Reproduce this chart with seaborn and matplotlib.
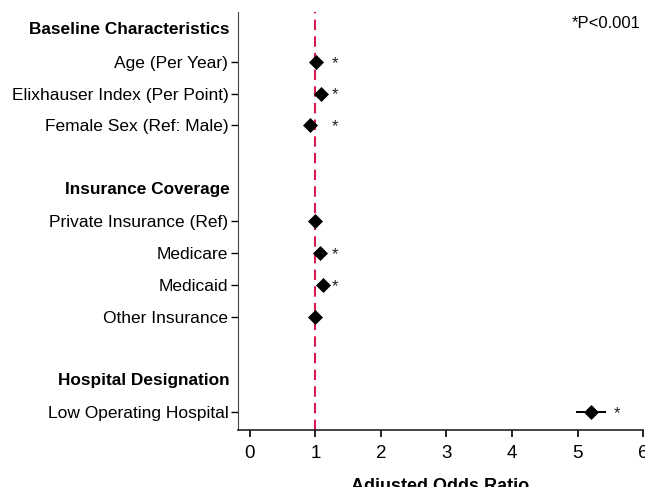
import numpy as np
import pandas as pd
import matplotlib
matplotlib.use("Agg")
import matplotlib.pyplot as plt
import seaborn as sns

# rows from top to bottom; header rows carry no marks
headers = ["Baseline Characteristics", "Insurance Coverage", "Hospital Designation"]
header_rows = [0, 5, 11]
labels = ["Age (Per Year)", "Elixhauser Index (Per Point)", "Female Sex (Ref: Male)",
          "Private Insurance (Ref)", "Medicare", "Medicaid", "Other Insurance",
          "Low Operating Hospital"]
label_rows = [1, 2, 3, 6, 7, 8, 9, 12]
odds = [1.01, 1.08, 0.92, 1.00, 1.07, 1.11, 1.00, 5.21]
ci_lo = [1.00, 1.06, 0.90, 1.00, 1.05, 1.08, 0.98, 4.98]
ci_hi = [1.02, 1.10, 0.94, 1.00, 1.09, 1.14, 1.02, 5.44]
star = [True, True, True, False, True, True, False, True]
star_x = [1.30, 1.30, 1.30, None, 1.30, 1.30, None, 5.60]

df = pd.DataFrame({"label": labels, "row": label_rows, "or": odds,
                   "lo": ci_lo, "hi": ci_hi})

sns.set_style("ticks")
plt.rcParams["font.family"] = ["Liberation Sans", "DejaVu Sans"]
plt.rcParams["text.color"] = "black"
plt.rcParams["axes.labelcolor"] = "black"
plt.rcParams["xtick.color"] = "black"
plt.rcParams["ytick.color"] = "black"

fig, ax = plt.subplots(figsize=(6.45, 4.87), dpi=100)
fig.subplots_adjust(left=0.369, right=0.997, top=0.975, bottom=0.117)

ax.axvline(1, color="#d81b4f", linestyle=(0, (5, 3)), linewidth=1.5, zorder=1)
ax.hlines(df["row"], df["lo"], df["hi"], color="black", linewidth=1.4, zorder=2)
sns.scatterplot(data=df, x="or", y="row", marker="D", s=50, color="black",
                edgecolor="black", ax=ax, zorder=3, legend=False)

for r, s, sx in zip(label_rows, star, star_x):
    if s:
        ax.text(sx, r + 0.05, "*", ha="center", va="center", fontsize=12,
                color="#222222")

ax.set_ylim(12.55, -0.55)
ax.set_xlim(-0.18, 6.0)
ax.set_yticks(label_rows)
ax.set_yticklabels(labels, fontsize=12.5)
ax.set_xticks(range(0, 7))
ax.tick_params(axis="x", labelsize=13.5, length=5, width=1.2, pad=6)
ax.tick_params(axis="y", length=5, width=1.0, pad=2)

for h, r in zip(headers, header_rows):
    ax.text(-0.02, r, h, transform=ax.get_yaxis_transform(), ha="right",
            va="center", fontsize=12.4, fontweight="bold")

ax.text(0.995, 0.99, "*P<0.001", transform=ax.transAxes, ha="right", va="top",
        fontsize=12)

ax.set_xlabel("Adjusted Odds Ratio", fontsize=13, fontweight="bold", labelpad=11)
ax.set_ylabel("")
sns.despine(ax=ax)
ax.spines["left"].set_color("#444444")
ax.spines["bottom"].set_color("#222222")
ax.spines["bottom"].set_linewidth(1.2)

fig.savefig("out.png", dpi=100)
